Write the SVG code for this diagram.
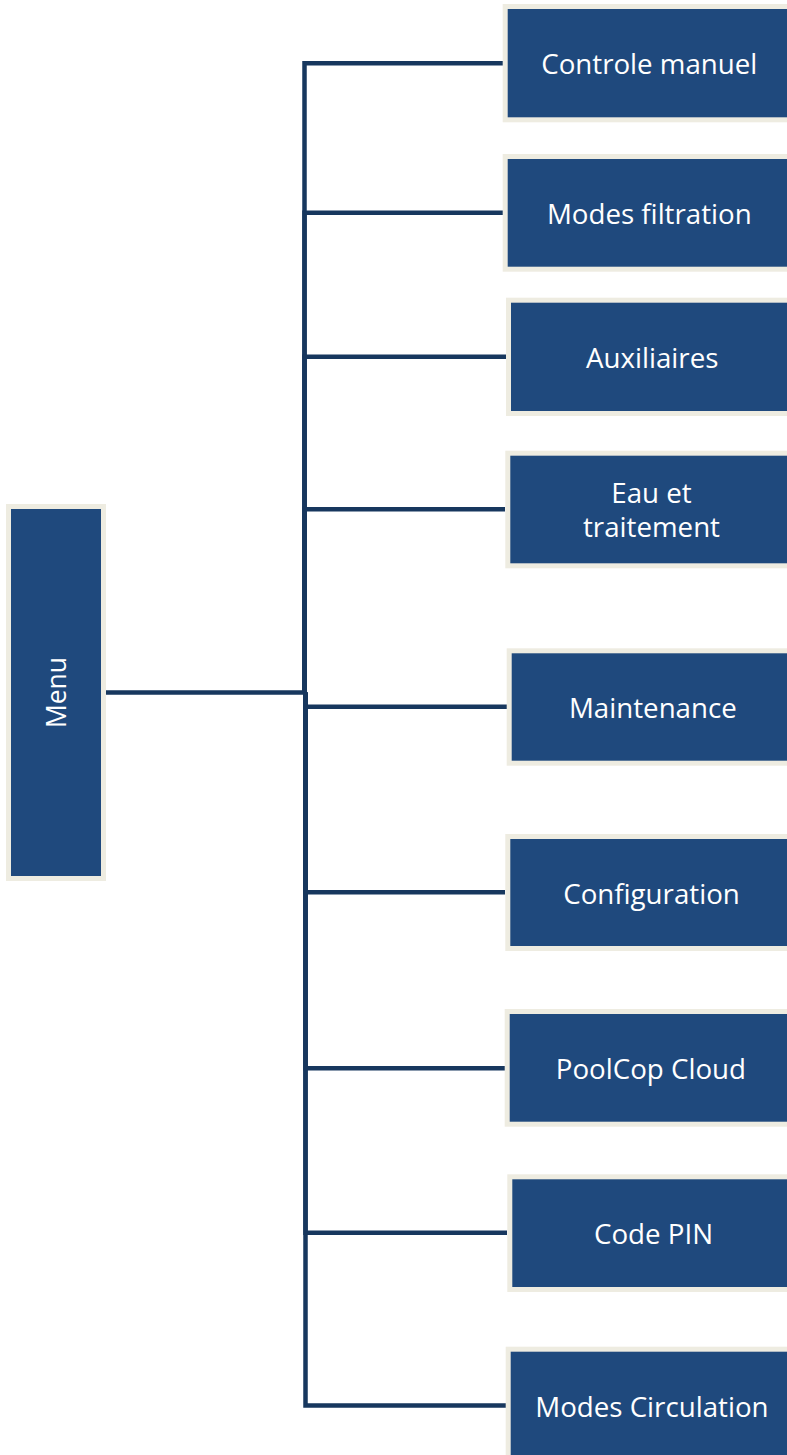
<svg xmlns="http://www.w3.org/2000/svg" width="787" height="1455" viewBox="0 0 787 1455">
<style>
.box{fill:#1F497D;stroke:#EEECE1;stroke-width:5}
.lbl{font-family:"Open Sans","Noto Sans",sans-serif;font-size:27.7px;fill:#FFFFFF;text-anchor:middle}
.conn{fill:none;stroke:#17375E;stroke-width:4.5}
</style>
<rect width="787" height="1455" fill="#FFFFFF"/>
<g id="connectors">
<path class="conn" d="M106,692.5 H304.5 V63.3 H503"/>
<path class="conn" d="M304.5,692.5 V212.7 H503"/>
<path class="conn" d="M304.5,692.5 V356.7 H506"/>
<path class="conn" d="M304.5,692.5 V509.3 H505"/>
<path class="conn" d="M305.5,692.5 V706.7 H507"/>
<path class="conn" d="M305.5,692.5 V892.3 H505"/>
<path class="conn" d="M305.5,692.5 V1068.3 H505"/>
<path class="conn" d="M305.5,692.5 V1232.7 H507"/>
<path class="conn" d="M305.5,692.5 V1405.5 H506"/>
</g>
<g id="menu">
<rect class="box" x="8.5" y="506.5" width="95" height="372"/>
<text class="lbl" style="font-size:26.5px" transform="translate(65.5,692.5) rotate(-90)" x="0" y="0">Menu</text>
</g>
<g id="controle-manuel">
<rect class="box" x="505.2" y="6.5" width="287" height="113.3"/>
<text class="lbl" x="649.3" y="74">Controle manuel</text>
</g>
<g id="modes-filtration">
<rect class="box" x="505.2" y="156.5" width="287" height="112.7"/>
<text class="lbl" x="649.3" y="223.5">Modes filtration</text>
</g>
<g id="auxiliaires">
<rect class="box" x="508.5" y="300.2" width="287" height="113.3"/>
<text class="lbl" x="652.2" y="367.5">Auxiliaires</text>
</g>
<g id="eau-traitement">
<rect class="box" x="507.8" y="453.2" width="287" height="112.6"/>
<text class="lbl" x="651.5" y="502.5">Eau et</text>
<text class="lbl" x="651.5" y="537">traitement</text>
</g>
<g id="maintenance">
<rect class="box" x="509.2" y="650.8" width="287" height="112.4"/>
<text class="lbl" x="652.9" y="718">Maintenance</text>
</g>
<g id="configuration">
<rect class="box" x="507.8" y="836.5" width="287" height="112"/>
<text class="lbl" x="651.5" y="903.5">Configuration</text>
</g>
<g id="poolcop-cloud">
<rect class="box" x="507.2" y="1011.5" width="287" height="112.7"/>
<text class="lbl" x="650.9" y="1079">PoolCop Cloud</text>
</g>
<g id="code-pin">
<rect class="box" x="509.8" y="1176.8" width="287" height="112.7"/>
<text class="lbl" x="653.5" y="1244">Code PIN</text>
</g>
<g id="modes-circulation">
<rect class="box" x="508.2" y="1349.2" width="287" height="113"/>
<text class="lbl" x="651.9" y="1416.5">Modes Circulation</text>
</g>
</svg>
